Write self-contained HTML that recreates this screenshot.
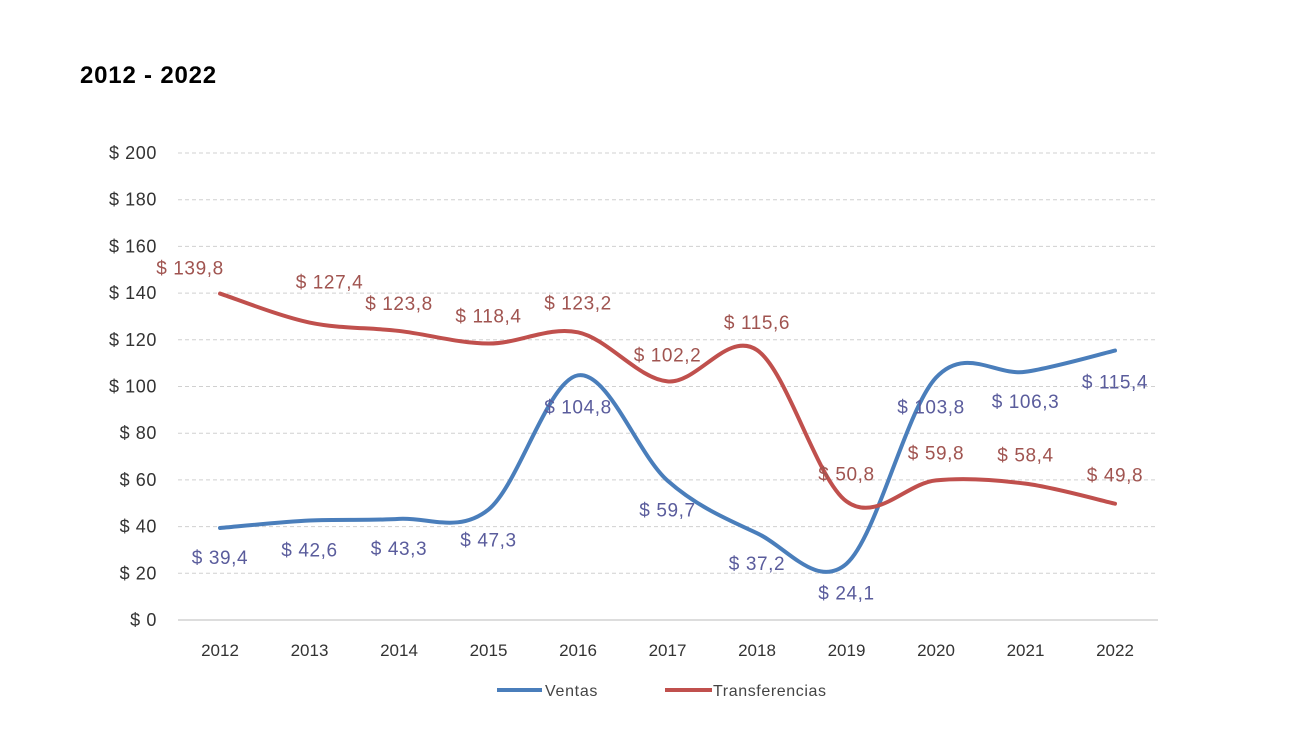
<!DOCTYPE html>
<html><head><meta charset="utf-8"><style>
body{margin:0;background:#fff;width:1300px;height:728px;overflow:hidden;font-family:"Liberation Sans",sans-serif}
</style></head><body>
<svg id="chart" width="1300" height="728" xmlns="http://www.w3.org/2000/svg">
<text x="80" y="83" font-size="24" font-weight="bold" fill="#000" letter-spacing="0.8">2012 - 2022</text>
<g id="grid"></g><g id="axes"></g><g id="series"></g><g id="labels"></g>
<g>
<line x1="497" y1="690" x2="542" y2="690" stroke="#4a7ebb" stroke-width="4"/>
<text x="545" y="696" font-size="16" letter-spacing="0.7" fill="#444">Ventas</text>
<line x1="665" y1="690" x2="712" y2="690" stroke="#c0504d" stroke-width="4"/>
<text x="713" y="696" font-size="16" letter-spacing="0.6" fill="#444">Transferencias</text>
</g>
</svg>
<script>
const years=["2012","2013","2014","2015","2016","2017","2018","2019","2020","2021","2022"];
const ventas=[39.4,42.6,43.3,47.3,104.8,59.7,37.2,24.1,103.8,106.3,115.4];
const transferencias=[139.8,127.4,123.8,118.4,123.2,102.2,115.6,50.8,59.8,58.4,49.8];
const yTicks=[0,20,40,60,80,100,120,140,160,180,200];
const ventasLabelDx=[0,0,0,0,0,0,0,0,-5,0,0];
const ventasLabelDy=[30,30,30,31,32,30,31,30,30,30,32];
const transLabelDx=[-30,20,0,0,0,0,0,0,0,0,0];
const transLabelDy=[-25,-40,-27,-27,-29,-26,-27,-27,-27,-28,-28];
const NS="http://www.w3.org/2000/svg";
const x=i=>220+i*89.5, y=v=>620-v*2.335;
function mk(t,a,p){const e=document.createElementNS(NS,t);for(const k in a)e.setAttribute(k,a[k]);p.appendChild(e);return e;}
const grid=document.getElementById('grid'),axes=document.getElementById('axes'),ser=document.getElementById('series'),lab=document.getElementById('labels');
yTicks.forEach(t=>{
 const l=mk('line',{x1:178,x2:1158,y1:y(t),y2:y(t),stroke:t===0?'#bbb':'#d0d0d0','stroke-dasharray':t===0?'':'4,3','stroke-width':1},grid);
 
 
 const tx=mk('text',{x:157,y:y(t)+6,'font-size':18,'letter-spacing':0.6,fill:'#333','text-anchor':'end'},axes);tx.textContent='$ '+t;
 
 
});
years.forEach((yr,i)=>{
 const tx=mk('text',{x:x(i),y:656,'font-size':17,fill:'#333','text-anchor':'middle'},axes);tx.textContent=yr;
 
 
});
function path(vals){const p=vals.map((v,i)=>[x(i),y(v)]);let d='M'+p[0];
 for(let i=0;i<p.length-1;i++){const p0=p[i-1]||p[i],p1=p[i],p2=p[i+1],p3=p[i+2]||p2;
  const c1=[p1[0]+(p2[0]-p0[0])/6,p1[1]+(p2[1]-p0[1])/6],c2=[p2[0]-(p3[0]-p1[0])/6,p2[1]-(p3[1]-p1[1])/6];
  d+=' C'+c1+' '+c2+' '+p2;}return d;}
const fmt=v=>'$ '+v.toFixed(1).replace('.',',');
function series(vals,color,lc,dx,dy,name){
 const p=mk('path',{d:path(vals),fill:'none',stroke:color,'stroke-width':4,'stroke-linecap':'round'},ser);
 
 
 vals.forEach((v,i)=>{const t=mk('text',{x:x(i)+dx[i],y:y(v)+dy[i]+6,'font-size':19,'letter-spacing':0.6,fill:lc,'text-anchor':'middle'},lab);t.textContent=fmt(v);
  
  });
}
series(ventas,'#4a7ebb','#5a5c9c',ventasLabelDx,ventasLabelDy,'ventas');
series(transferencias,'#c0504d','#a05450',transLabelDx,transLabelDy,'transferencias');
</script>
</body></html>
